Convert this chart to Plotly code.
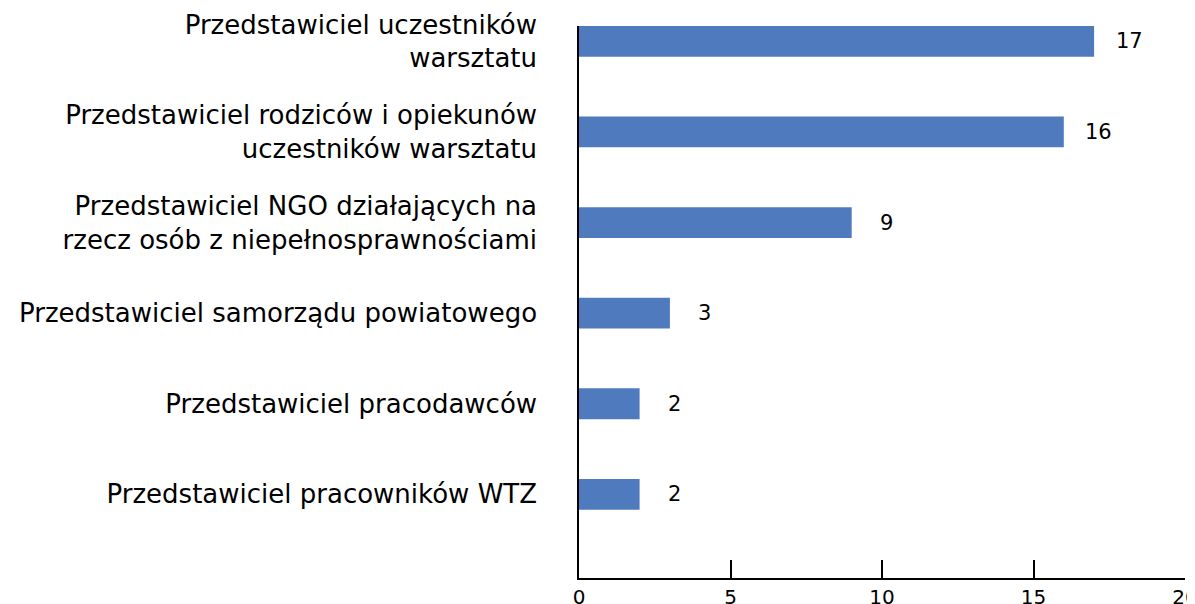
import plotly.graph_objects as go

categories = [
    "Przedstawiciel uczestników<br>warsztatu",
    "Przedstawiciel rodziców i opiekunów<br>uczestników warsztatu",
    "Przedstawiciel NGO działających na<br>rzecz osób z niepełnosprawnościami",
    "Przedstawiciel samorządu powiatowego",
    "Przedstawiciel pracodawców",
    "Przedstawiciel pracowników WTZ",
]
values = [17, 16, 9, 3, 2, 2]
x_ticks = [0, 5, 10, 15, 20]

FONT = "DejaVu Sans, Verdana, sans-serif"
BAR_COLOR = "#4F7BBE"

fig = go.Figure()
fig.add_trace(go.Bar(
    x=values,
    y=categories,
    orientation="h",
    marker=dict(color=BAR_COLOR, line=dict(width=0)),
    width=0.34,
    hoverinfo="x+y",
))

for v, c in zip(values, categories):
    fig.add_annotation(
        x=v, y=c, xref="x", yref="y",
        text=str(v), showarrow=False,
        xanchor="center", yanchor="middle",
        xshift=35,
        font=dict(family=FONT, size=21, color="#000000"),
    )

# the page body has an 8px default margin, so the figure is sized to fit
fig.update_layout(
    width=1187, height=596,
    margin=dict(l=571, r=10, t=18, b=26, autoexpand=False),
    paper_bgcolor="white",
    plot_bgcolor="white",
    showlegend=False,
    font=dict(family=FONT, color="#000000"),
)
fig.update_xaxes(
    range=[0, 20],
    tickvals=x_ticks,
    ticktext=[str(t) for t in x_ticks],
    showgrid=False,
    zeroline=False,
    showline=True,
    linecolor="#000000",
    linewidth=1.5,
    ticks="inside",
    ticklen=18,
    tickwidth=1.5,
    tickcolor="#000000",
    tickfont=dict(family=FONT, size=20, color="#000000"),
    ticklabeloverflow="allow",
    layer="below traces",
)
fig.update_yaxes(
    categoryorder="array",
    categoryarray=categories,
    range=[5.923, -0.169],
    showgrid=False,
    zeroline=False,
    showline=True,
    linecolor="#000000",
    linewidth=1.5,
    ticks="",
    ticklabelstandoff=35,
    tickfont=dict(family=FONT, size=26, color="#000000"),
    layer="below traces",
)

fig.write_html("out.html")
